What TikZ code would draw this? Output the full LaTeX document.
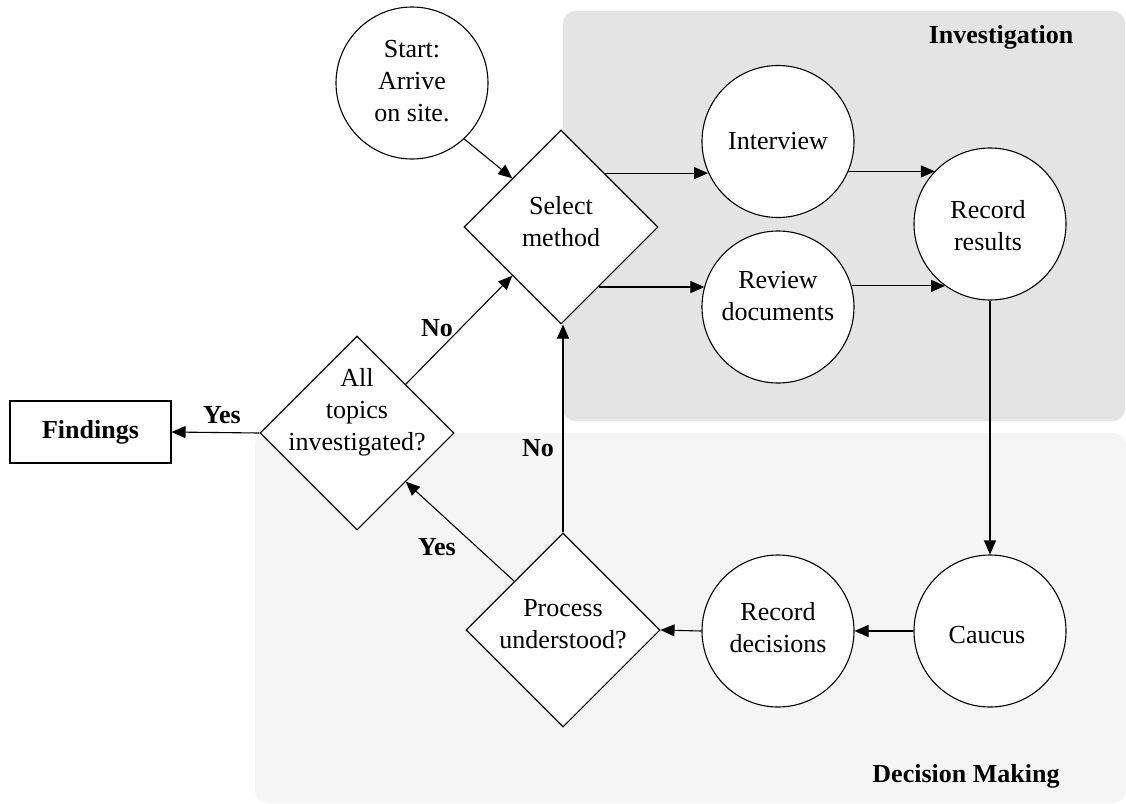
\documentclass[tikz,border=0pt]{standalone}
\usepackage{fontspec}
\setmainfont{Liberation Serif}
\usetikzlibrary{shapes.geometric,arrows.meta,calc}
\definecolor{invbg}{HTML}{E4E4E4}
\definecolor{decbg}{HTML}{F5F5F5}
\begin{document}
\begin{tikzpicture}[x=0.5pt,y=-0.5pt,
  every node/.style={font=\fontsize{13pt}{16pt}\selectfont},
  circ/.style={circle,draw,fill=white,minimum size=76pt,inner sep=0pt,line width=0.55pt},
  dia/.style={diamond,draw,fill=white,minimum width=97pt,minimum height=97pt,inner sep=0pt,shape aspect=1,line width=0.55pt},
  txt/.style={align=center,inner sep=0pt},
  lbl/.style={font=\fontsize{13pt}{16pt}\selectfont\bfseries,inner sep=0pt},
  arr/.style={-{Triangle[length=7pt,width=6pt]},line width=0.55pt}]
\useasboundingbox (0,0) rectangle (1126,804);
% panels
\fill[invbg, rounded corners=6pt] (563,11) rectangle (1125,421);
\fill[decbg, rounded corners=6pt] (255,433) rectangle (1126,803);
\node[lbl] (invlbl) at (1001,37) {Investigation};
\node[lbl] (declbl) at (966,776) {Decision Making};
% shapes
\node[circ] (start) at (412,83) {};
\node[dia] (sel) at (561,227) {};
\node[circ] (int) at (778,141.5) {};
\node[circ] (rev) at (778,307) {};
\node[circ] (rr) at (990,224) {};
\node[circ] (cau) at (990,631) {};
\node[circ] (rd) at (778,631) {};
\node[dia] (proc) at (563,630) {};
\node[dia] (all) at (357,433) {};
\node[draw,line width=0.55pt,minimum width=80.5pt,minimum height=31pt,inner sep=0pt,font=\fontsize{13pt}{16pt}\selectfont\bfseries] (find) at (90.5,432) {Findings};
% texts
\node[txt] (startt) at (412,81) {Start:\\Arrive\\on site.};
\node[txt] (selt) at (561,222) {Select\\method};
\node[txt] (allt) at (357,412) {All\\topics\\investigated?};
\node[txt] (proct) at (563,624) {Process\\understood?};
\node[txt] (intt) at (778,141) {Interview};
\node[txt] (revt) at (778,296) {Review\\documents};
\node[txt] (rrt) at (988,226) {Record\\results};
\node[txt] (rdt) at (778,628) {Record\\decisions};
\node[txt] (caut) at (987,635) {Caucus};
% connectors
\draw[arr] (start.-47) -- ($(sel.north)!0.5!(sel.west)$);
\draw[arr] (sel.51.5) -- (sel.51.5 -| int.204.5);
\draw[arr] (sel.-58.3) -- (sel.-58.3 -| rev.164.7);
\draw[arr] (int.-23.7) -- (int.-23.7 -| rr.136.8);
\draw[arr] (rev.16) -- (rev.16 -| rr.234.7);
\draw[arr] (rr.south) -- (cau.north);
\draw[arr] (cau.west) -- (rd.east);
\draw[arr] (rd.west) -- (proc.east);
\draw[arr] (proc.north) -- (proc.north |- sel.south);
\draw[arr] ($(proc.north)!0.5!(proc.west)$) -- ($(all.south)!0.5!(all.east)$);
\draw[arr] ($(all.north)!0.5!(all.east)$) -- ($(sel.south)!0.5!(sel.west)$);
\draw[arr] (all.west) -- (find.east);
% edge labels
\node[lbl] (no1) at (437,328) {No};
\node[lbl] (no2) at (538,448) {No};
\node[lbl] (yes1) at (222,415) {Yes};
\node[lbl] (yes2) at (437,547) {Yes};
\end{tikzpicture}
\end{document}
